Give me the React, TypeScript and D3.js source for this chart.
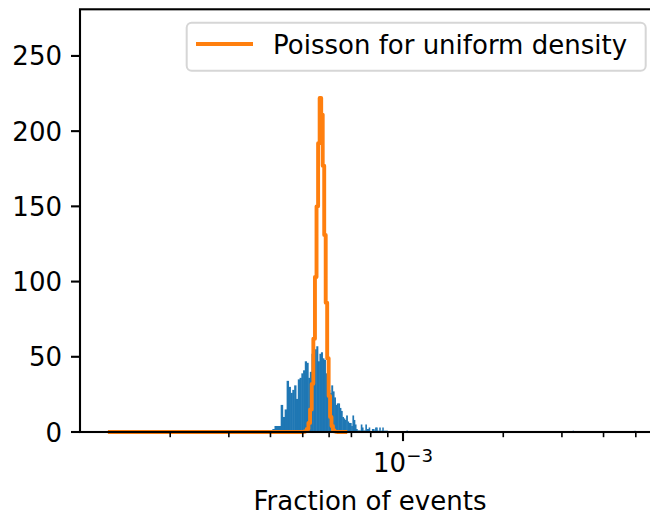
import { useEffect, useRef } from "react";
import * as d3 from "d3";

// histogram of event fractions (linear bins on a log axis)
const binStart = 4.0e-4;
const binWidth = 6e-6;
const counts = [
  1, 2, 4, 4, 4, 18, 10, 15, 34, 30, 26, 28, 31, 22, 35, 36, 39, 41, 47, 46,
  36, 40, 52, 50, 55, 57, 47, 52, 53, 49, 48, 39, 29, 28, 26, 31, 27, 23, 18, 19,
  19, 16, 14, 10, 9, 8, 11, 7, 6, 6, 4, 11, 8, 5, 2, 1, 1, 1, 5, 3,
  1, 1, 5, 2, 2, 3, 0, 0, 2, 2, 1, 3, 3, 1, 0, 3, 0, 1, 3, 0,
  1, 0, 1,
];
// isolated cells far in the tail
const tailFractions = [1.026e-3, 3.24e-3, 4.97e-3];
const tailCounts = [1, 1, 1];

// Poisson expectation for uniform density, same bins
const poissonStart = 5.02e-4;
const poissonValues = [
  0.2, 0.6, 2, 6, 15, 32, 62, 103, 150, 192, 222, 211, 177, 131, 86, 49, 24, 10,
  4, 1.2, 0.4, 0.1,
];
const poissonRange = [1.3e-4, 6.8e-4];

const xLimits = [1.072e-4, 5.91e-3];
const yLimits = [0, 281];
const yTicks = [0, 50, 100, 150, 200, 250];
const legendLabel = "Poisson for uniform density";
const xLabel = "Fraction of events";

const BLUE = "#1f77b4";
const ORANGE = "#ff7f0e";
const FONT = "DejaVu Sans";

export default function App() {
  const svgRef = useRef<SVGSVGElement>(null);

  useEffect(() => {
    const el = svgRef.current;
    if (!el) return;
    const w = 650;
    const h = 517;
    const left = 80;
    const right = 660;
    const top = 9.3;
    const bottom = 432;
    const fs = 26;

    d3.select(el).selectAll("*").remove();
    const svg = d3.select(el).attr("width", w).attr("height", h).attr("viewBox", `0 0 ${w} ${h}`);

    const x = d3.scaleLog().domain(xLimits).range([left, right]);
    const y = d3.scaleLinear().domain(yLimits).range([bottom, top]);

    const plot = svg.append("g");

    // bars (slightly widened so neighbours don't leave hairline seams)
    const bars = counts.map((c, i) => ({ x0: binStart + i * binWidth, c }));
    tailFractions.forEach((f, i) => bars.push({ x0: f, c: tailCounts[i] }));
    plot
      .selectAll("rect.bar")
      .data(bars.filter((b) => b.c > 0))
      .join("rect")
      .attr("class", "bar")
      .attr("x", (d) => x(d.x0) - 0.25)
      .attr("width", (d) => Math.max(0.5, x(d.x0 + binWidth) - x(d.x0) + 0.5))
      .attr("y", (d) => y(d.c))
      .attr("height", (d) => y(0) - y(d.c))
      .attr("fill", BLUE);

    // poisson step line
    const pts: [number, number][] = [[poissonRange[0], 0]];
    poissonValues.forEach((v, i) => pts.push([poissonStart + i * binWidth, v]));
    pts.push([poissonStart + poissonValues.length * binWidth, 0]);
    pts.push([poissonRange[1], 0]);
    const line = d3
      .line<[number, number]>()
      .x((d) => x(d[0]))
      .y((d) => y(d[1]))
      .curve(d3.curveStepAfter);
    plot
      .append("path")
      .attr("d", line(pts))
      .attr("fill", "none")
      .attr("stroke", ORANGE)
      .attr("stroke-width", 3.9)
      .attr("stroke-linejoin", "round");

    // spines
    svg
      .append("rect")
      .attr("x", left)
      .attr("y", top)
      .attr("width", right - left)
      .attr("height", bottom - top)
      .attr("fill", "none")
      .attr("stroke", "black")
      .attr("stroke-width", 2.1);

    // y axis
    const gy = svg.append("g").attr("font-family", FONT).attr("font-size", fs);
    yTicks.forEach((t) => {
      gy.append("line")
        .attr("x1", left - 9)
        .attr("x2", left)
        .attr("y1", y(t))
        .attr("y2", y(t))
        .attr("stroke", "black")
        .attr("stroke-width", 2.1);
      gy.append("text")
        .attr("x", left - 18)
        .attr("y", y(t) + 9.5)
        .attr("text-anchor", "end")
        .text(String(t));
    });

    // x axis ticks
    const gx = svg.append("g");
    const minor: number[] = [];
    [-4, -3].forEach((e) => {
      for (let k = 2; k <= 9; k++) minor.push(k * Math.pow(10, e));
    });
    minor
      .filter((v) => v >= xLimits[0] && v <= xLimits[1])
      .forEach((v) => {
        gx.append("line")
          .attr("x1", x(v))
          .attr("x2", x(v))
          .attr("y1", bottom)
          .attr("y2", bottom + 5.2)
          .attr("stroke", "black")
          .attr("stroke-width", 1.6);
      });
    gx.append("line")
      .attr("x1", x(1e-3))
      .attr("x2", x(1e-3))
      .attr("y1", bottom)
      .attr("y2", bottom + 9.1)
      .attr("stroke", "black")
      .attr("stroke-width", 2.1);
    const lab = gx
      .append("text")
      .attr("x", x(1e-3))
      .attr("y", 471.7)
      .attr("text-anchor", "middle")
      .attr("font-family", FONT)
      .attr("font-size", fs);
    lab.append("tspan").text("10");
    lab.append("tspan").attr("font-size", fs * 0.7).attr("dy", -10).text("\u22123");

    svg
      .append("text")
      .attr("x", (left + right) / 2)
      .attr("y", 510)
      .attr("text-anchor", "middle")
      .attr("font-family", FONT)
      .attr("font-size", fs)
      .text(xLabel);

    // legend
    const lg = svg.append("g");
    lg.append("rect")
      .attr("x", 186.7)
      .attr("y", 22.7)
      .attr("width", 459)
      .attr("height", 48)
      .attr("rx", 5)
      .attr("fill", "white")
      .attr("fill-opacity", 0.8)
      .attr("stroke", "#cccccc")
      .attr("stroke-opacity", 0.8)
      .attr("stroke-width", 2);
    lg.append("line")
      .attr("x1", 196)
      .attr("x2", 253)
      .attr("y1", 44)
      .attr("y2", 44)
      .attr("stroke", ORANGE)
      .attr("stroke-width", 3.9);
    lg.append("text")
      .attr("x", 273)
      .attr("y", 54)
      .attr("font-family", FONT)
      .attr("font-size", fs)
      .text(legendLabel);
  }, []);

  return <svg ref={svgRef} style={{ position: "absolute", left: 0, top: 0 }} />;
}
